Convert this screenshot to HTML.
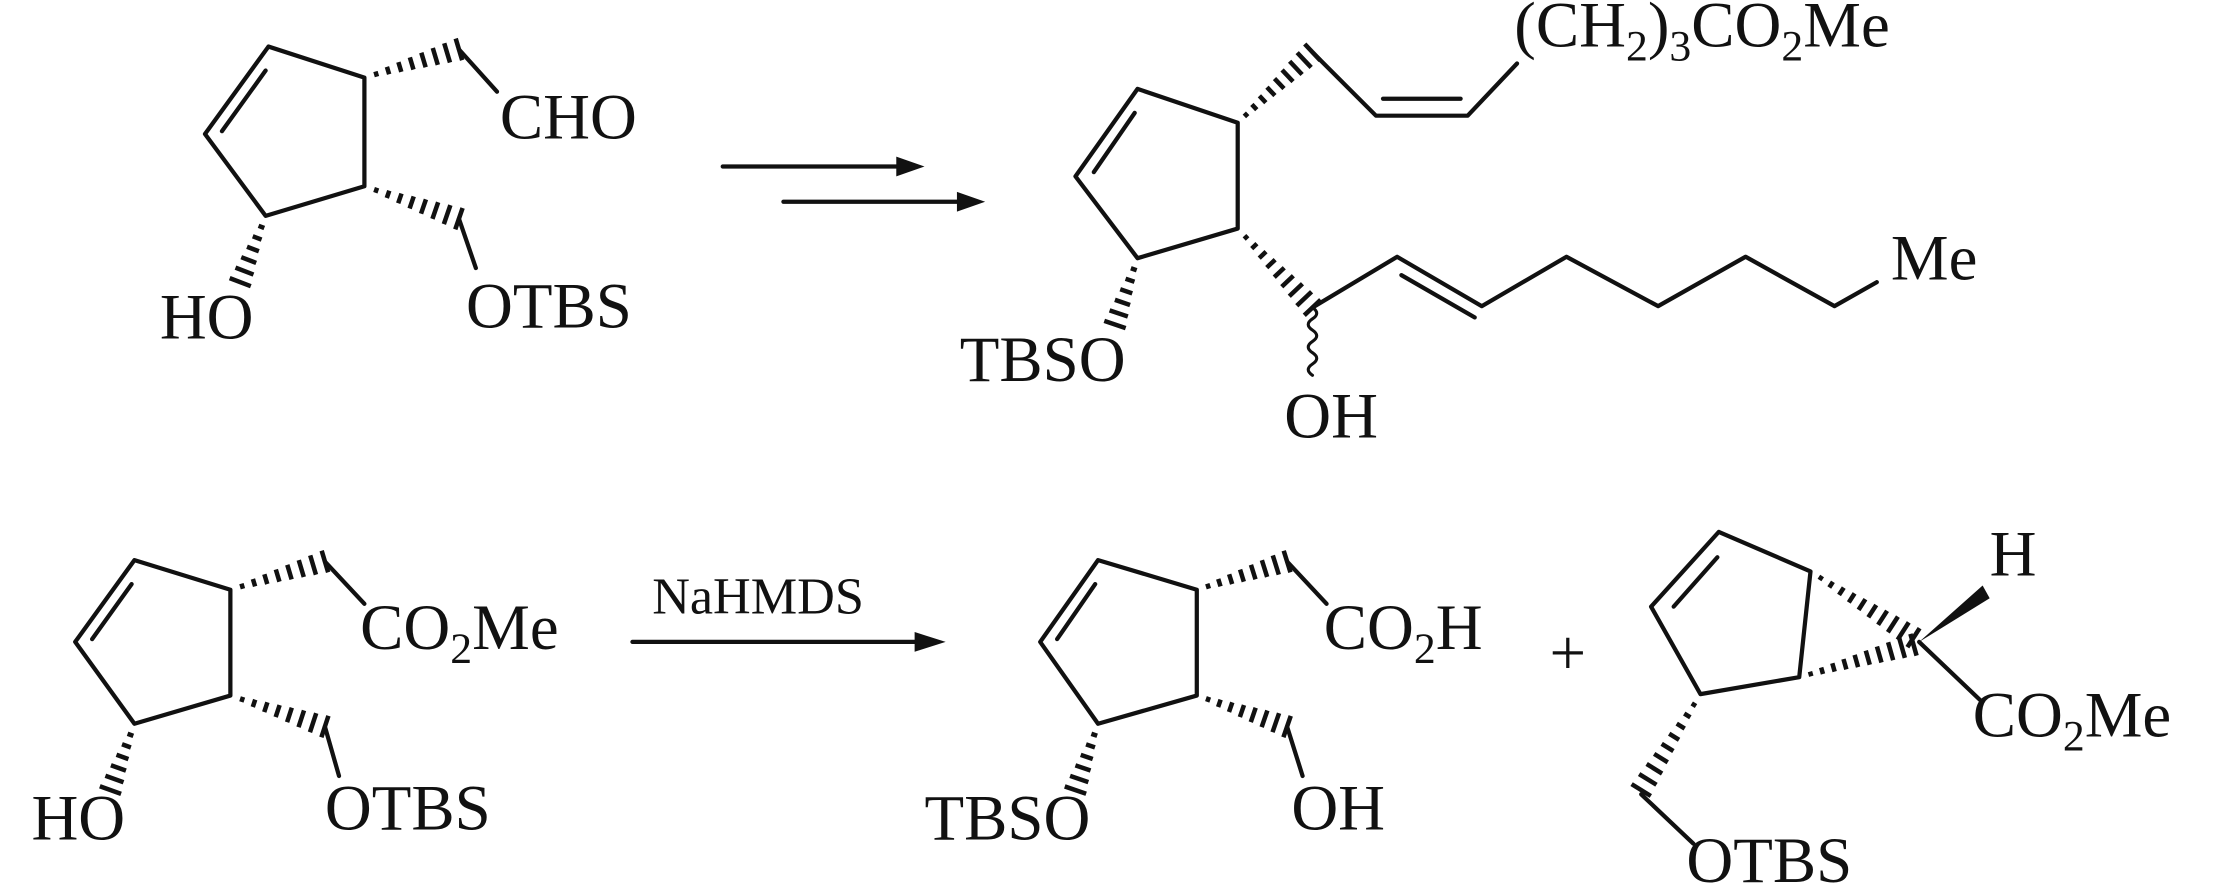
<!DOCTYPE html>
<html><head><meta charset="utf-8"><style>
html,body{margin:0;padding:0;background:#fff;}
svg{display:block}
text{font-family:"Liberation Serif",serif;font-size:46px;fill:#111}
.s{font-size:31px}
</style></head><body>
<svg id="sv" width="2213" height="886" viewBox="0 0 1568 628" xmlns="http://www.w3.org/2000/svg">
<g stroke="#111" stroke-width="3" fill="none" stroke-linecap="round" stroke-linejoin="round" id="g">
<polyline points="190,33 258,55 258,132 188,153 145,95 190,33"/>
<line x1="188" y1="50" x2="157" y2="93"/>
<polyline points="325,35 352,65"/>
<polyline points="325,155 337,190"/>
<line x1="512" y1="118" x2="635" y2="118"/>
<line x1="555" y1="143" x2="680" y2="143"/>
<polyline points="806,63 877,87 877,162 806,183 762,125 806,63"/>
<line x1="804" y1="80" x2="775" y2="122"/>
<polyline points="930,37 975,82 1040,82 1075,45"/>
<line x1="980" y1="70" x2="1035" y2="70"/>
<polyline points="930,218 990,182 1050,217 1110,182 1175,217 1237,182 1300,217 1330,200"/>
<line x1="993" y1="195" x2="1045" y2="225"/>
<path d="M930,218 q6,4 0,8 q-6,4 0,8 q6,4 0,8 q-6,4 0,8 q6,4 0,8 q-6,4 0,8" stroke-width="2.2"/>
<polyline points="95,397 163,418 163,493 95,513 53,455 95,397"/>
<line x1="93" y1="414" x2="65" y2="453"/>
<polyline points="230,398 258,428"/>
<polyline points="230,515 240,550"/>
<line x1="448" y1="455" x2="650" y2="455"/>
<polyline points="778,397 848,418 848,493 778,513 737,455 778,397"/>
<line x1="776" y1="414" x2="749" y2="453"/>
<polyline points="912,398 940,428"/>
<polyline points="912,515 923,550"/>
<polyline points="1218,377 1283,405 1275,480 1205,492 1170,430 1218,377"/>
<line x1="1217" y1="395" x2="1186" y2="430"/>
<line x1="1360" y1="455" x2="1403" y2="496"/>
<line x1="1163" y1="563" x2="1200" y2="598"/>
</g>
<g fill="#111">
<polygon points="635,111 655,118 635,125"/>
<polygon points="678,136 698,143 678,150"/>
<polygon points="648,448 670,455 648,462"/>
<polygon points="1360,455 1405,415 1410,424"/>
</g>
<g id="h" stroke="#111" stroke-width="3.2"></g>
<text x="354" y="98">CHO</text>
<text x="330" y="232">OTBS</text>
<text x="113" y="240">HO</text>
<text x="1073" y="33">(CH<tspan class="s" dy="10">2</tspan><tspan dy="-10">)</tspan><tspan class="s" dy="10">3</tspan><tspan dy="-10">CO</tspan><tspan class="s" dy="10">2</tspan><tspan dy="-10">Me</tspan></text>
<text x="1340" y="198">Me</text>
<text x="910" y="310">OH</text>
<text x="680" y="270">TBSO</text>
<text x="255" y="460">CO<tspan class="s" dy="10">2</tspan><tspan dy="-10">Me</tspan></text>
<text x="230" y="588">OTBS</text>
<text x="22" y="595">HO</text>
<text x="462" y="435" style="font-size:37px">NaHMDS</text>
<text x="938" y="460">CO<tspan class="s" dy="10">2</tspan><tspan dy="-10">H</tspan></text>
<text x="915" y="588">OH</text>
<text x="655" y="595">TBSO</text>
<text x="1098" y="478">+</text>
<text x="1410" y="408">H</text>
<text x="1398" y="522">CO<tspan class="s" dy="10">2</tspan><tspan dy="-10">Me</tspan></text>
<text x="1195" y="625">OTBS</text>
</svg>
<script>
var hs=[[258,55,325,35],[258,132,325,155],[188,153,170,200],[877,87,930,37],[877,162,930,218],[806,183,790,230],
[163,418,230,398],[163,493,230,515],[95,513,78,560],[848,418,912,398],[848,493,912,515],[778,513,762,560],
[1283,405,1356,452],[1275,480,1356,457],[1205,492,1163,560]];
var g=document.getElementById('h'),ns='http://www.w3.org/2000/svg';
hs.forEach(function(a){var dx=a[2]-a[0],dy=a[3]-a[1],L=Math.hypot(dx,dy),ux=dx/L,uy=dy/L,px=-uy,py=ux,n=Math.round(L/8.5);
for(var i=1;i<=n;i++){var t=i/n,x=a[0]+dx*t,y=a[1]+dy*t,w=1+7*t;var l=document.createElementNS(ns,'line');
l.setAttribute('x1',x-px*w);l.setAttribute('y1',y-py*w);l.setAttribute('x2',x+px*w);l.setAttribute('y2',y+py*w);g.appendChild(l);}});
</script>
</body></html>
